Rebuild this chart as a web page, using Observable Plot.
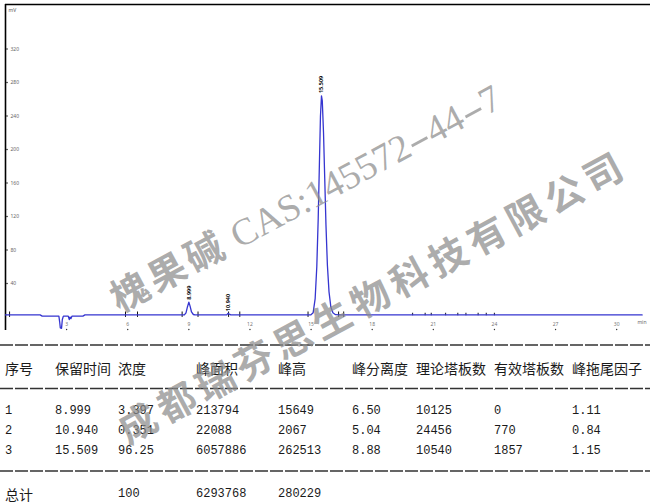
<!DOCTYPE html>
<html><head><meta charset="utf-8">
<script src="https://cdn.jsdelivr.net/npm/d3@7"></script>
<script src="https://cdn.jsdelivr.net/npm/@observablehq/plot@0.6"></script>
<style>
body{margin:0;background:#fff;}
#wrap{position:relative;width:650px;height:504px;overflow:hidden;background:#fff;}
#chart svg{display:block;}
#table{position:absolute;left:0;top:338px;}
.wm{position:absolute;white-space:nowrap;color:rgba(140,140,140,0.72);transform:translate(-50%,-50%) rotate(-28.3deg);line-height:1;}
.wm .cjk{font-family:"Noto Sans CJK SC";font-weight:700;letter-spacing:4px;}
.wm .lat{font-family:"Liberation Serif";}
.wm .dsh{display:inline-block;transform:scaleX(1.8);margin:0 5px;}
</style></head>
<body>
<div id="wrap">
  <div id="chart"></div>
  <svg id="table" width="650" height="166"></svg>
  <div class="wm" id="wm1" style="left:305px;top:197px;"><span class="cjk" style="font-size:38px;">槐果碱</span><span class="lat" style="font-size:38px;"> CAS:145572<span class="dsh">-</span>44<span class="dsh">-</span>7</span></div>
  <div class="wm" id="wm2" style="left:372px;top:295px;font-size:38px;font-family:'Noto Sans CJK SC';font-weight:700;letter-spacing:6px;">成都瑞芬思生物科技有限公司</div>
</div>
<script>
// ---- chromatogram trace (time in min, signal in mV) ----
const traceTime = [0, 1.7, 1.8, 2.62, 2.66, 2.69, 2.75, 2.79, 2.84, 3.08, 3.13, 3.17, 3.21, 3.26, 3.8, 3.9,
  8.78, 8.86, 8.93, 9.0, 9.06, 9.13, 9.22, 9.3,
  10.86, 10.92, 10.98, 11.06,
  14.98, 15.1, 15.2, 15.28, 15.35, 15.41, 15.46, 15.51, 15.55, 15.61, 15.67, 15.73, 15.8, 15.88, 15.97, 16.07, 16.2, 16.4,
  31.25];
const traceMv = [2.5, 2.5, 1, 1, -6, -13, -13.5, -3, 1, 1, -3, 0, -2, 1, 1, 2.5,
  2.5, 5, 12, 17.8, 13, 6, 3, 2.5,
  2.5, 4.3, 3.5, 2.5,
  2.5, 5, 22, 60, 118, 185, 240, 264, 258, 220, 165, 110, 62, 30, 12, 5, 2.8, 2.5,
  2.5];
const baselineMv = 2.5;

// ---- axes ----
const xTicks = [3, 6, 9, 12, 15, 18, 21, 24, 27, 30];
const yTicks = [40, 80, 120, 160, 200, 240, 280, 320];
const xDomain = [0, 31.66];
const yDomain = [-16.1, 373.1];

// ---- peak integration markers (min) ----
const markerTimes = [0.2, 5.89, 6.48, 8.67, 9.45, 10.95, 11.5, 14.85, 16.35, 16.6];
const noiseMarkerTimes = [19.98, 20.6, 20.9, 21.6, 22.2, 22.6, 23.2, 23.6, 24.0];

// ---- peak table ----
const peakNo = [1, 2, 3];
const retTime = [8.999, 10.940, 15.509];
const conc = ["3.397", "0.351", "96.25"];
const area = [213794, 22088, 6057886];
const peakHeight = [15649, 2067, 262513];
const resolution = ["6.50", "5.04", "8.88"];
const theoPlates = [10125, 24456, 10540];
const effPlates = [0, 770, 1857];
const tailing = ["1.11", "0.84", "1.15"];
const headers = ["序号", "保留时间", "浓度", "峰面积", "峰高", "峰分离度", "理论塔板数", "有效塔板数", "峰拖尾因子"];
const totalLabel = "总计";
const totalConc = 100, totalArea = 6293768, totalHeight = 280229;

const trace = traceTime.map((t, i) => ({t, mv: traceMv[i]}));
const peaks = retTime.map((rt, i) => ({rt, top: peakHeight[i] / 1000 + baselineMv}));

const chart = Plot.plot({
  width: 650, height: 338,
  marginTop: 4, marginBottom: 8, marginLeft: 5, marginRight: 0,
  x: {domain: xDomain, axis: null},
  y: {domain: yDomain, axis: null},
  style: {background: "transparent", overflow: "visible"},
  marks: [
    Plot.ruleY([yDomain[1]], {stroke: "#000", strokeWidth: 1.6}),
    Plot.ruleX([xDomain[0]], {stroke: "#000", strokeWidth: 1.6}),
    Plot.dot(yTicks, {y: d => d, frameAnchor: "left", dx: 1.5, r: 0.8, fill: "#222", stroke: null}),
    Plot.text(yTicks, {y: d => d, frameAnchor: "left", dx: 5, textAnchor: "start", fontSize: 5, fill: "#666", text: d => String(d)}),
    Plot.text(["mV"], {frameAnchor: "top-left", dx: 3, dy: 4, textAnchor: "start", fontSize: 5, fill: "#555"}),
    Plot.text(xTicks, {x: d => d, frameAnchor: "bottom", dy: -5, fontSize: 5, fill: "#777", text: d => String(d)}),
    Plot.dot(xTicks, {x: d => d, frameAnchor: "bottom", dy: -1, r: 0.7, fill: "#333", stroke: null}),
    Plot.text(["min"], {frameAnchor: "bottom-right", dx: -4, dy: -7, fontSize: 5, fill: "#666"}),
    Plot.ruleX(markerTimes, {y1: baselineMv - 3, y2: baselineMv + 3.5, stroke: "#111", strokeWidth: 1}),
    Plot.ruleX(noiseMarkerTimes, {y1: baselineMv - 1, y2: baselineMv + 2, stroke: "#334", strokeWidth: 1.2}),
    Plot.line(trace, {x: "t", y: "mv", stroke: "#3535d0", strokeWidth: 1.3}),
    Plot.text(peaks, {x: "rt", y: "top", text: d => d.rt.toFixed(3), rotate: -90, textAnchor: "start", dy: -2, fontSize: 5.5, fontWeight: "bold", fill: "#111"})
  ]
});
document.getElementById("chart").append(chart);

// ---- table below the chart ----
const tbl = d3.select("#table");
const colX = [5, 55, 118, 196, 278, 352, 416, 494, 572];
const lineY = [7, 50.5, 133];
tbl.selectAll("line").data(lineY).join("line")
  .attr("x1", 0).attr("x2", 650).attr("y1", d => d).attr("y2", d => d)
  .attr("stroke", "#333").attr("stroke-width", 1.5).attr("stroke-dasharray", "13 2");
tbl.selectAll("text.h").data(headers).join("text").attr("class", "h")
  .attr("x", (d, i) => colX[i]).attr("y", 30).attr("dominant-baseline", "central")
  .attr("font-family", "'Noto Sans CJK SC'").attr("font-size", 14).attr("fill", "#1a1a1a").text(d => d);
const rows = peakNo.map((n, i) => [String(n), retTime[i].toFixed(3), conc[i], String(area[i]), String(peakHeight[i]),
  resolution[i], String(theoPlates[i]), String(effPlates[i]), tailing[i]]);
const rowY = [72.7, 92.7, 112.7];
rows.forEach((r, ri) => {
  r.forEach((v, ci) => {
    tbl.append("text").attr("x", colX[ci]).attr("y", rowY[ri]).attr("dominant-baseline", "central")
      .attr("font-family", "'Liberation Mono'").attr("font-size", 12).attr("fill", "#1a1a1a").text(v);
  });
});
tbl.append("text").attr("x", colX[0]).attr("y", 156).attr("dominant-baseline", "central")
  .attr("font-family", "'Noto Sans CJK SC'").attr("font-size", 14).attr("fill", "#1a1a1a").text(totalLabel);
[[2, totalConc], [3, totalArea], [4, totalHeight]].forEach(([ci, v]) => {
  tbl.append("text").attr("x", colX[ci]).attr("y", 156).attr("dominant-baseline", "central")
    .attr("font-family", "'Liberation Mono'").attr("font-size", 12).attr("fill", "#1a1a1a").text(String(v));
});
</script>
</body></html>
